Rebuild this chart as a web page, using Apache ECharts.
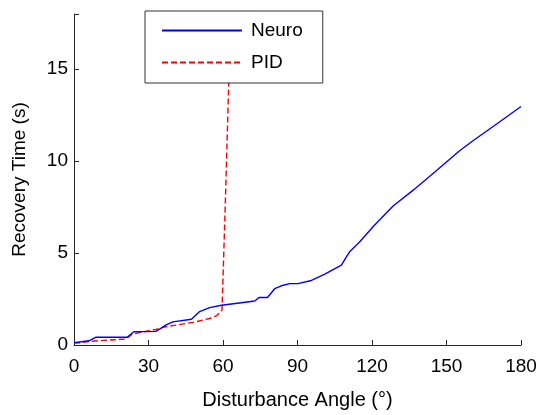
<!DOCTYPE html>
<html>
<head>
<meta charset="utf-8">
<script src="https://cdn.jsdelivr.net/npm/echarts@6/dist/echarts.min.js"></script>
<style>
html,body{margin:0;padding:0;background:#fff;}
#chart{width:540px;height:415px;}
</style>
</head>
<body>
<div id="chart"></div>
<script>
var seriesNames = ['Neuro', 'PID'];
var xTicks = [0, 30, 60, 90, 120, 150, 180];
var yTicks = [0, 5, 10, 15];
var neuroData = [
  [0,0.12],[6,0.23],[8.7,0.42],[21.4,0.42],[24.1,0.72],[32.9,0.74],[34.5,0.86],[36.9,1.08],
  [39.8,1.26],[47.3,1.40],[50.6,1.82],[54.6,2.03],[59.4,2.16],[68.1,2.31],[72.8,2.39],
  [74.5,2.58],[77.9,2.58],[80.8,3.06],[83.5,3.22],[86.9,3.34],[90.2,3.34],[95.6,3.51],
  [101,3.85],[107.7,4.34],[109.5,4.75],[111.1,5.09],[115,5.6],[120.5,6.44],[128.5,7.56],
  [136.6,8.42],[145.4,9.42],[155.4,10.58],[160.8,11.12],[170.2,12.02],[180,12.97]
];
var pidData = [
  [0,0.1],[3,0.13],[6.6,0.2],[12,0.25],[20.8,0.32],[23.5,0.59],[28.8,0.74],[33,0.85],
  [36.9,0.99],[42,1.1],[47.9,1.23],[54.6,1.44],[57.5,1.6],[58.7,1.77],[59.6,1.9],
  [61,8],[62.3,14.2],[63.2,18.5]
];

var chart = echarts.init(document.getElementById('chart'));
var font = 'Liberation Sans, Arial, Helvetica, sans-serif';
chart.setOption({
  animation: false,
  backgroundColor: '#fff',
  textStyle: {fontFamily: font},
  grid: {left: 74, right: 19, top: 14, bottom: 69, containLabel: false},
  legend: {
    orient: 'vertical',
    left: 145, top: 11,
    padding: [10, 20, 11, 16],
    itemWidth: 80, itemHeight: 14, itemGap: 13,
    backgroundColor: '#fff',
    borderColor: '#333', borderWidth: 1,
    itemStyle: {opacity: 0},
    textStyle: {fontSize: 19, color: '#000', fontFamily: font, padding: [0,0,0,4]},
    data: seriesNames
  },
  xAxis: {
    type: 'value', min: xTicks[0], max: xTicks[xTicks.length-1], interval: 30,
    name: 'Disturbance Angle (°)', nameLocation: 'middle', nameGap: 45,
    nameTextStyle: {fontSize: 20, color: '#000', fontFamily: font},
    axisLine: {show: true, lineStyle: {color: '#262626', width: 1}},
    axisTick: {show: true, inside: true, length: 5, lineStyle: {color: '#262626'}},
    axisLabel: {fontSize: 19, color: '#000', margin: 12, fontFamily: font},
    splitLine: {show: false}
  },
  yAxis: {
    type: 'value', min: 0, max: 18, interval: 5,
    name: 'Recovery Time (s)', nameLocation: 'middle', nameGap: 45,
    nameTextStyle: {fontSize: 19, color: '#000', fontFamily: font},
    axisLine: {show: true, lineStyle: {color: '#262626', width: 1}},
    axisTick: {show: true, inside: true, length: 5, lineStyle: {color: '#262626'}},
    axisLabel: {fontSize: 19, color: '#000', margin: 6, fontFamily: font,
      formatter: function(v){ return yTicks.indexOf(v) >= 0 ? String(v) : ''; }},
    splitLine: {show: false}
  },
  series: [
    {name: seriesNames[0], type: 'line', data: neuroData, symbol: 'none', clip: true,
     lineStyle: {color: '#0000ff', width: 1.4}, itemStyle: {color: '#0000ff'}, z: 3},
    {name: seriesNames[1], type: 'line', data: pidData, symbol: 'none', clip: true,
     lineStyle: {color: '#ff0000', width: 1.4, type: [6, 3]}, itemStyle: {color: '#ff0000'}, z: 2}
  ]
});
</script>
</body>
</html>
